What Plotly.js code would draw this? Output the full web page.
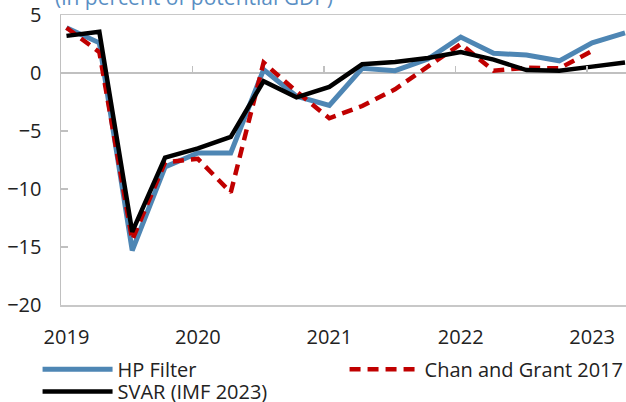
<!DOCTYPE html>
<html>
<head>
<meta charset="utf-8">
<script src="https://cdn.plot.ly/plotly-3.0.1.min.js"></script>
<style>
  html, body { margin: 0; padding: 0; background: #ffffff; }
  #chart { width: 626px; height: 402px; }
</style>
</head>
<body>
<div id="chart"></div>
<script>
// Quarters 2019Q1 .. 2023Q2
var quarters = ["2019Q1","2019Q2","2019Q3","2019Q4","2020Q1","2020Q2","2020Q3","2020Q4",
                "2021Q1","2021Q2","2021Q3","2021Q4","2022Q1","2022Q2","2022Q3","2022Q4",
                "2023Q1","2023Q2"];
var yearLabels = ["2019","2020","2021","2022","2023"];

var hpFilter = [3.9, 2.6, -15.3, -8.1, -6.9, -6.9, 0.3, -2.0, -2.8, 0.4, 0.2, 1.2,
                3.1, 1.7, 1.55, 1.05, 2.6, 3.45];
var chanGrant = [3.9, 1.8, -14.4, -7.7, -7.4, -10.3, 0.9, -1.6, -3.9, -2.85, -1.4, 0.5,
                 2.5, 0.2, 0.45, 0.4, 1.9];
var svar = [3.2, 3.55, -13.7, -7.3, -6.5, -5.5, -0.7, -2.1, -1.2, 0.75, 0.95, 1.3,
            1.8, 1.15, 0.25, 0.2, 0.55, 0.9];

var idx = function (arr) { return arr.map(function (_, i) { return i; }); };
var yearIdx = yearLabels.map(function (_, k) { return k * 4; });
var yearTickMarks = yearLabels.slice(1).map(function (_, k) { return (k + 1) * 4 - 0.16; });

var FONT = "Open Sans, Noto Sans, sans-serif";
var legendFont = { family: FONT, size: 20, color: "#222222" };

var traces = [
  { x: idx(hpFilter), y: hpFilter, name: "HP Filter", type: "scatter", mode: "lines",
    line: { color: "#4e86b4", width: 5 }, hoverinfo: "skip", legend: "legend" },
  { x: idx(chanGrant), y: chanGrant, name: "Chan and Grant 2017", type: "scatter", mode: "lines",
    line: { color: "#c00000", width: 4.5, dash: "11px,7px" }, hoverinfo: "skip", legend: "legend2" },
  { x: idx(svar), y: svar, name: "SVAR (IMF 2023)", type: "scatter", mode: "lines",
    line: { color: "#000000", width: 4.5 }, hoverinfo: "skip", legend: "legend3" },
  // invisible trace to carry the year tick marks on the zero line
  { x: [0], y: [0], xaxis: "x2", type: "scatter", mode: "none", showlegend: false, hoverinfo: "skip" }
];

function legendAt(x, y) {
  return { orientation: "v", xref: "container", yref: "container",
    x: x, y: y, xanchor: "left", yanchor: "top",
    itemwidth: 70, font: legendFont, bgcolor: "rgba(0,0,0,0)" };
}

var layout = {
  width: 626, height: 402,
  margin: { l: 61, r: 0, t: 15, b: 97, autoexpand: false },
  paper_bgcolor: "#ffffff", plot_bgcolor: "#ffffff",
  font: { family: FONT, size: 20, color: "#222222" },
  showlegend: true,
  xaxis: {
    range: [-0.167, 17.03], automargin: false,
    tickvals: yearIdx, ticktext: yearLabels, tickangle: 0,
    ticks: "", showgrid: false, zeroline: false,
    showline: true, linecolor: "#c8c8c8", linewidth: 1.5, mirror: true,
    ticklabelstandoff: 13,
    tickfont: { family: FONT, size: 20, color: "#222222" }
  },
  xaxis2: {
    overlaying: "x", anchor: "free", position: 0.8, side: "top",
    range: [-0.167, 17.03], tickvals: yearTickMarks,
    ticks: "outside", ticklen: 7, tickwidth: 1.5, tickcolor: "#c0c0c0",
    showticklabels: false, showgrid: false, zeroline: false, showline: false
  },
  yaxis: {
    range: [-20, 5], tickvals: [-20, -15, -10, -5, 0, 5], automargin: false,
    ticks: "inside", ticklen: 7, tickwidth: 1.5, tickcolor: "#c0c0c0",
    showgrid: false, zeroline: true, zerolinecolor: "#c0c0c0", zerolinewidth: 1.5,
    showline: true, linecolor: "#c0c0c0", linewidth: 1.5,
    ticklabelstandoff: 14,
    tickfont: { family: FONT, size: 20, color: "#222222" }
  },
  legend: legendAt(0.06, 0.13),
  legend2: legendAt(0.5504, 0.13),
  legend3: legendAt(0.06, 0.0747),
  annotations: [
    { text: "(in percent of potential GDP)", xref: "paper", yref: "paper",
      x: -0.014, y: 1, xanchor: "left", yanchor: "bottom", yshift: 2,
      showarrow: false, font: { family: FONT, size: 21, color: "#5a8fc4" } }
  ]
};

Plotly.newPlot("chart", traces, layout, { staticPlot: true, displayModeBar: false });
</script>
</body>
</html>
